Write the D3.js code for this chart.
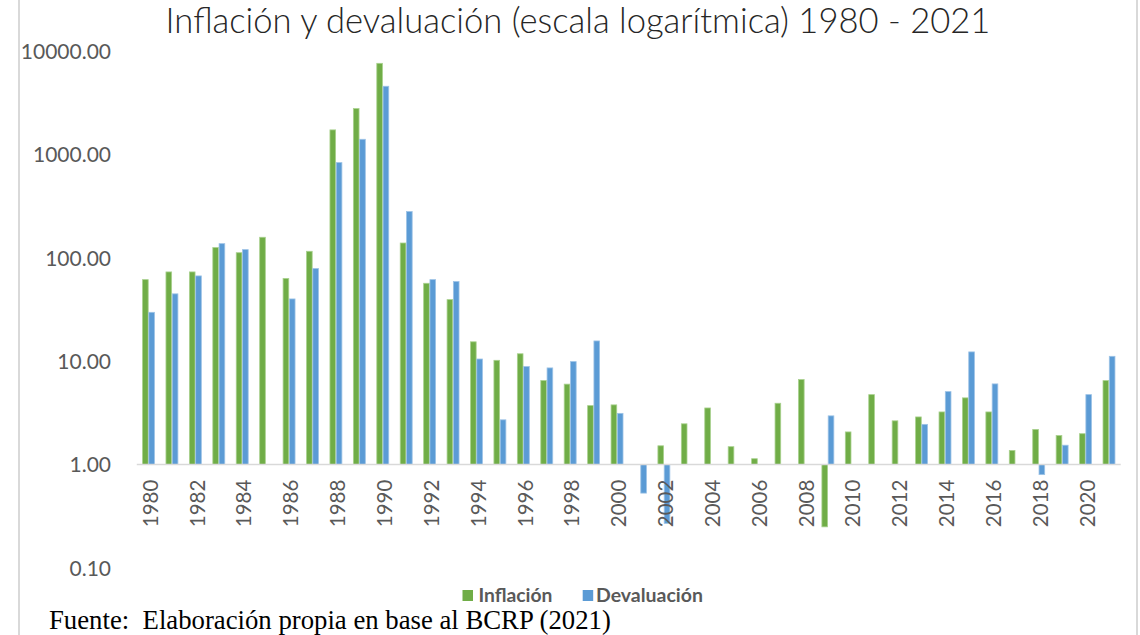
<!DOCTYPE html>
<html>
<head>
<meta charset="utf-8">
<script src="https://cdn.jsdelivr.net/npm/d3@7"></script>
<style>
  html, body { margin: 0; padding: 0; background: #fff; }
  svg { display: block; }
</style>
</head>
<body>
<svg id="chart" width="1140" height="635"></svg>
<script>
// ---- data ----
const years = d3.range(1980, 2022);
const inflacion = [
  61.5, 73.0, 73.0, 125.6, 112.0, 158.0, 63.2, 115.6, 1726, 2775,
  7600, 139, 56.7, 39.4, 15.4, 10.2, 11.8, 6.5, 6.0, 3.72,
  3.78, null, 1.52, 2.48, 3.53, 1.49, 1.14, 3.92, 6.64, 0.25,
  2.07, 4.75, 2.65, 2.89, 3.23, 4.42, 3.23, 1.37, 2.19, 1.91,
  1.99, 6.49
];
const devaluacion = [
  29.7, 44.8, 66.8, 137, 120, null, 40.0, 78.7, 833, 1400,
  4560, 280, 61.5, 58.9, 10.5, 2.71, 8.87, 8.61, 9.91, 15.7,
  3.13, 0.53, 0.27, null, null, null, null, null, null, 2.96,
  null, null, null, 2.45, 5.08, 12.3, 6.03, null, 0.80, 1.54,
  4.75, 11.15
];
const yTicks = [0.1, 1, 10, 100, 1000, 10000];
const xTickYears = years.filter(y => y % 2 === 0);
const seriesNames = ["Inflación", "Devaluación"];
const colors = ["#70AD47", "#5B9BD5"];
const strokeColors = ["#A9D18E", "#9DC3E6"];
const titleText = "Inflación y devaluación (escala logarítmica) 1980 - 2021";
const sourceText = "Fuente:  Elaboración propia en base al BCRP (2021)";

// ---- layout ----
const svg = d3.select("#chart");
const plotLeft = 136.8, plotRight = 1120.7;

const x0 = d3.scaleBand().domain(years).range([plotLeft, plotRight])
  .paddingInner(0.49).paddingOuter(0.245);
const x1 = d3.scaleBand().domain([0, 1]).range([0, x0.bandwidth()]).paddingInner(0.1);
const y = d3.scaleLog().domain([0.1, 10000]).range([568, 51]);

// chart border lines
svg.append("line").attr("x1", 19).attr("x2", 19).attr("y1", 0).attr("y2", 635)
  .attr("stroke", "#d9d9d9").attr("stroke-width", 2);
svg.append("line").attr("x1", 1137).attr("x2", 1137).attr("y1", 0).attr("y2", 635)
  .attr("stroke", "#d9d9d9").attr("stroke-width", 2);

// fit text helper
function fitWidth(sel, target) {
  const w = sel.node().getComputedTextLength();
  const fs = parseFloat(sel.attr("font-size"));
  sel.attr("font-size", fs * target / w);
}

// title
const title = svg.append("text")
  .attr("x", 578).attr("y", 33)
  .attr("text-anchor", "middle")
  .attr("font-family", "Lato, 'Open Sans', sans-serif")
  .attr("font-weight", 300)
  .attr("font-size", 30)
  .attr("fill", "#262626")
  .text(titleText);
fitWidth(title, 825);

// y axis labels
const yAxis = d3.axisLeft(y).tickValues(yTicks).tickFormat(d3.format(".2f")).tickSize(0).tickPadding(0);
const yg = svg.append("g").attr("transform", "translate(111,0)").call(yAxis);
yg.select(".domain").remove();
yg.selectAll("text")
  .attr("font-family", "Lato, sans-serif")
  .attr("font-size", 21)
  .attr("fill", "#595959")
  .attr("dy", "0.35em");

// bars
const base = y(1);
const groups = svg.append("g").selectAll("g")
  .data(years.map((yr, i) => ({ yr, vals: [inflacion[i], devaluacion[i]] })))
  .join("g")
  .attr("transform", d => `translate(${x0(d.yr)},0)`);

groups.selectAll("rect")
  .data(d => d.vals.map((v, k) => ({ v, k })).filter(e => e.v != null))
  .join("rect")
  .attr("x", e => x1(e.k))
  .attr("width", x1.bandwidth())
  .attr("y", e => Math.min(base, y(e.v)))
  .attr("height", e => Math.abs(base - y(e.v)))
  .attr("fill", e => colors[e.k])
  .attr("stroke", e => strokeColors[e.k])
  .attr("stroke-width", 0.8);

// horizontal axis line at 1
svg.append("line")
  .attr("x1", plotLeft).attr("x2", plotRight)
  .attr("y1", base).attr("y2", base)
  .attr("stroke", "#d9d9d9").attr("stroke-width", 1.5);

// x axis labels (rotated)
const xAxis = d3.axisBottom(x0).tickValues(xTickYears).tickSize(0).tickPadding(0);
const xg = svg.append("g").attr("transform", `translate(0,${base})`).call(xAxis);
xg.select(".domain").remove();
xg.selectAll("text")
  .attr("font-family", "Lato, sans-serif")
  .attr("font-size", 20.5)
  .attr("fill", "#595959")
  .attr("text-anchor", "end")
  .attr("transform", "translate(2,15) rotate(-90)")
  .attr("x", 0).attr("y", 0)
  .attr("dy", "0.35em");

// legend
const legendItems = [
  { name: seriesNames[0], color: colors[0], sx: 462.5, tx: 478.5, w: 74 },
  { name: seriesNames[1], color: colors[1], sx: 582.7, tx: 596, w: 107 }
];
const lg = svg.append("g");
legendItems.forEach(it => {
  lg.append("rect").attr("x", it.sx).attr("y", 590).attr("width", 10.5).attr("height", 11)
    .attr("fill", it.color);
  const t = lg.append("text").attr("x", it.tx).attr("y", 601.5)
    .attr("font-family", "Lato, sans-serif").attr("font-weight", "bold")
    .attr("font-size", 17).attr("fill", "#595959").text(it.name);
  fitWidth(t, it.w);
});

// source
const src = svg.append("text")
  .attr("x", 49).attr("y", 629)
  .attr("font-family", "'Liberation Serif', 'Times New Roman', serif")
  .attr("font-size", 22)
  .attr("fill", "#000")
  .attr("xml:space", "preserve")
  .style("white-space", "pre")
  .text(sourceText);
fitWidth(src, 562);
</script>
</body>
</html>
